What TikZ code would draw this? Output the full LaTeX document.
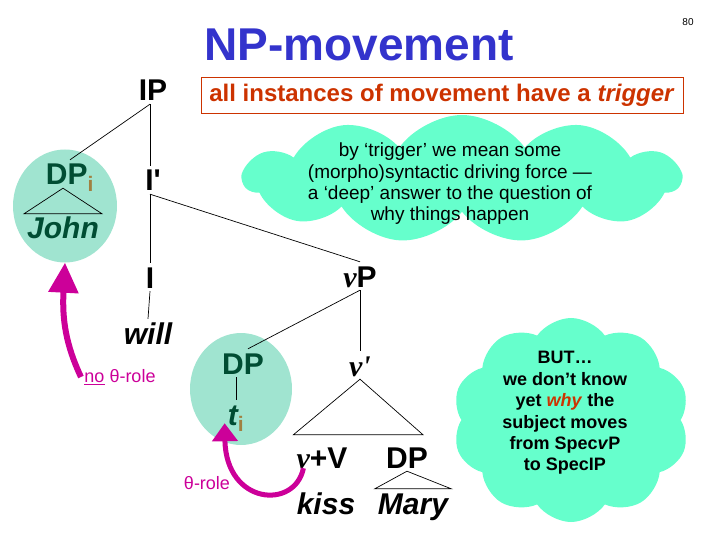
\documentclass[tikz,border=0pt]{standalone}
\usepackage{fontspec}
\setmainfont{Liberation Sans}
\newfontfamily\vfont{Liberation Serif}
\usepackage{tikz}
\usetikzlibrary{shapes.geometric, shapes.symbols, arrows.meta, calc}
\definecolor{titleblue}{RGB}{51,51,204}
\definecolor{myred}{RGB}{204,51,0}
\definecolor{bubblegreen}{RGB}{102,255,204}
\definecolor{spotteal}{RGB}{160,228,208}
\definecolor{darkgreen}{RGB}{0,77,51}
\definecolor{idxbrown}{RGB}{160,128,64}
\definecolor{mymagenta}{RGB}{204,0,153}
\newcommand{\littlev}{{\vfont\bfseries\itshape v}}
\newcommand{\subidx}[1]{\textsubscript{\color{idxbrown}\upshape #1}}
\tikzset{
  cat/.style={font=\fontsize{30}{36}\selectfont\bfseries,
    text height=22pt, text depth=0pt, inner sep=3pt},
  word/.style={cat, font=\fontsize{30}{36}\selectfont\bfseries\itshape},
  spot/.style={ellipse, fill=spotteal, inner sep=0pt},
  bubble/.style={cloud, cloud puffs=11, cloud puff arc=110,
    cloud ignores aspect, fill=bubblegreen, inner sep=0pt},
  line/.style={black, line width=0.7pt},
  movearrow/.style={mymagenta, line width=6pt},
  rolelbl/.style={mymagenta, font=\fontsize{18}{20}\selectfont}
}
\begin{document}
\begin{tikzpicture}[x=1pt, y=-1pt]
  \useasboundingbox (0,0) rectangle (720,540);
  % page number, title and box
  \node[font=\fontsize{10}{12}\selectfont] (pnum) at (688,22) {80};
  \node[font=\fontsize{46}{50}\selectfont\bfseries, text=titleblue] (title) at (359,45) {NP-movement};
  \node[draw=myred, text=myred, line width=0.8pt, minimum width=482pt, minimum height=36pt,
    inner sep=2pt, font=\fontsize{24}{28}\selectfont\bfseries] (trigger) at (442,95)
    {all instances of movement have a \textit{trigger}};

  % clouds and spots behind the tree
  \node[bubble, minimum width=437pt, minimum height=128pt] (cloudA) at (462,179) {};
  \node[bubble, cloud puffs=10, minimum width=237pt, minimum height=204pt] (cloudB) at (571,420) {};
  \node[spot, minimum width=104pt, minimum height=113pt] (dpispot) at (65,206) {};
  \node[spot, minimum width=102pt, minimum height=112pt] (tspot) at (241,389) {};

  \node[align=center, font=\fontsize{19}{21.3}\selectfont] (cloudAtext) at (450,184)
    {by ‘trigger’ we mean some\\(morpho)syntactic driving force —\\a ‘deep’ answer to the question of\\why things happen};
  \node[align=center, font=\fontsize{18}{21.4}\selectfont\bfseries] (cloudBtext) at (565,413)
    {BUT…\\we don’t know\\yet \textcolor{myred}{\textit{why}} the\\subject moves\\from Spec\textit{v}P\\to SpecIP};

  % tree
  \node[cat] (ip) at (153,90) {IP};
  \node[cat, text=darkgreen] (dpi) at (70,174) {DP\subidx{i}};
  \node[word, text=darkgreen] (john) at (63,228) {John};
  \node[cat] (ibar) at (153,180) {I\textquotesingle};
  \node[cat] (i) at (150,277) {I};
  \node[word] (will) at (148,333) {will};
  \node[cat] (vp) at (360,276) {\littlev P};
  \node[cat, text=darkgreen] (dpt) at (243,363) {DP};
  \node[word, text=darkgreen] (t) at (236,414) {t\subidx{i}};
  \node[cat] (vbar) at (360,365) {{\vfont\bfseries\itshape v\textquotesingle}};
  \node[cat] (vV) at (322,457) {\littlev+V};
  \node[cat] (dpo) at (407,457) {DP};
  \node[word] (kiss) at (326,503) {kiss};
  \node[word] (mary) at (413,503) {Mary};

  \draw[line] (ip.south -| i.north) -- (dpi.north);
  \draw[line] (ip.south -| i.north) -- (ibar.north -| i.north);
  \draw[line] (ibar.south -| i.north) -- (i.north);
  \draw[line] (ibar.south -| i.north) -- (vp.north);
  \draw[line] (i.south) -- (will.north);
  \draw[line] (vp.south) -- ([xshift=5pt]dpt.north);
  \draw[line] (vp.south) -- (vbar.north);
  \draw[line] (dpt.south -| t.north) -- (t.north);
  % roofs
  \draw[line] (dpi.south -| john.north) -- (john.north west) -- (john.north east) -- cycle;
  \draw[line] (vbar.south) -- ([yshift=8pt]vV.north west) -- ([xshift=-8pt,yshift=8pt]dpo.north east) -- cycle;
  \draw[line] (dpo.south) -- (mary.north west) -- (mary.north east) -- cycle;

  % movement arrows
  \node[rolelbl] (norole) at (120,377) {\underline{no} θ-role};
  \node[rolelbl] (role) at (207,483) {θ-role};
  \draw[movearrow, -{Triangle[width=29pt,length=30pt]}] (norole.west)
    .. controls (66,345) and (62,320) .. (dpispot.south);
  \draw[movearrow, line width=5pt, -{Triangle[width=25pt,length=18pt]}] ([xshift=10pt,yshift=3pt]vV.south west)
    .. controls (295,510) and (226,505) .. ([yshift=5pt]t.south west);
\end{tikzpicture}
\end{document}
